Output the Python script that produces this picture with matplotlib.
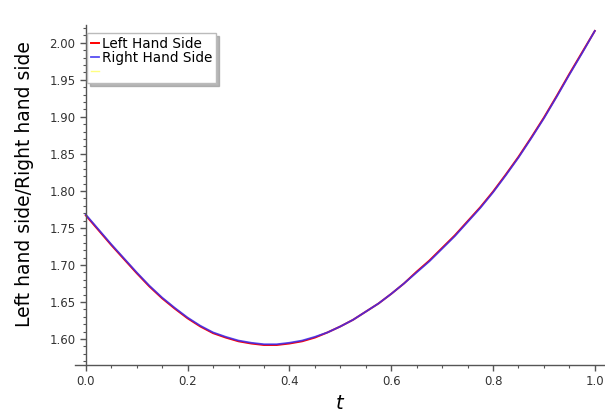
import numpy as np
import matplotlib
matplotlib.use('Agg')
import matplotlib.pyplot as plt
from matplotlib.ticker import MultipleLocator
from matplotlib.lines import Line2D

# values
t = [0.000, 0.025, 0.050, 0.075, 0.100, 0.125, 0.150, 0.175, 0.200, 0.225,
     0.250, 0.275, 0.300, 0.325, 0.350, 0.375, 0.400, 0.425, 0.450, 0.475,
     0.500, 0.525, 0.550, 0.575, 0.600, 0.625, 0.650, 0.675, 0.700, 0.725,
     0.750, 0.775, 0.800, 0.825, 0.850, 0.875, 0.900, 0.925, 0.950, 0.975, 1.000]
lhs = [1.767, 1.747, 1.727, 1.708, 1.689, 1.671, 1.655, 1.641, 1.628, 1.617,
       1.608, 1.602, 1.597, 1.594, 1.592, 1.592, 1.594, 1.597, 1.602, 1.609,
       1.617, 1.626, 1.637, 1.648, 1.661, 1.675, 1.691, 1.706, 1.723, 1.740,
       1.759, 1.778, 1.799, 1.822, 1.846, 1.872, 1.899, 1.928, 1.958, 1.987, 2.016]
rhs = [1.768, 1.748, 1.728, 1.709, 1.690, 1.672, 1.656, 1.642, 1.629, 1.618,
       1.609, 1.603, 1.598, 1.595, 1.593, 1.593, 1.595, 1.598, 1.603, 1.609,
       1.617, 1.626, 1.637, 1.648, 1.661, 1.675, 1.690, 1.705, 1.722, 1.739,
       1.758, 1.777, 1.798, 1.821, 1.845, 1.871, 1.898, 1.927, 1.957, 1.986, 2.016]
labels = ['Left Hand Side', 'Right Hand Side']

fig = plt.figure(figsize=(6.05, 4.16), dpi=100)
ax = fig.add_axes([0.1233, 0.1226, 0.8767, 0.8173])

ax.plot(t, lhs, color='red', lw=1.4, label=labels[0])
ax.plot(t, rhs, color='#3a2ef0', lw=1.3, alpha=0.85, label=labels[1])

ax.set_xlim(-0.022, 1.02)
ax.set_ylim(1.565, 2.024)

ax.spines['left'].set_position(('data', 0))
ax.spines['top'].set_visible(False)
ax.spines['right'].set_visible(False)
for s in ['left', 'bottom']:
    ax.spines[s].set_color('#555555')
    ax.spines[s].set_linewidth(1.0)

ax.xaxis.set_major_locator(MultipleLocator(0.2))
ax.xaxis.set_minor_locator(MultipleLocator(0.05))
ax.yaxis.set_major_locator(MultipleLocator(0.05))
ax.yaxis.set_minor_locator(MultipleLocator(0.01))
ax.xaxis.set_major_formatter(plt.FormatStrFormatter('%.1f'))
ax.yaxis.set_major_formatter(plt.FormatStrFormatter('%.2f'))
ax.tick_params(which='major', direction='out', length=4, width=1, color='#555555',
               labelsize=8.5, labelcolor='#333333')
ax.tick_params(which='minor', direction='out', length=2, width=0.8, color='#555555')

fig.text(0.562, 0.03, '$t$', fontsize=14, ha='center', va='center')
fig.text(0.041, 0.558, 'Left hand side/Right hand side', fontsize=13.5,
         rotation=90, ha='center', va='center')

handles, labs = ax.get_legend_handles_labels()
handles.append(Line2D([], [], color='#ffff80', lw=1))
labs.append('')
leg = ax.legend(handles, labs, loc='upper left', bbox_to_anchor=(87 / 605, 1 - 33 / 416),
                bbox_transform=fig.transFigure, borderaxespad=0, fancybox=False,
                shadow={'color': '#999999', 'alpha': 0.7}, handlelength=0.6,
                handletextpad=0.2, labelspacing=0.0, borderpad=0.3, fontsize=9.8)
leg.get_frame().set_edgecolor('#bbbbbb')

fig.savefig('out.png', dpi=100)
